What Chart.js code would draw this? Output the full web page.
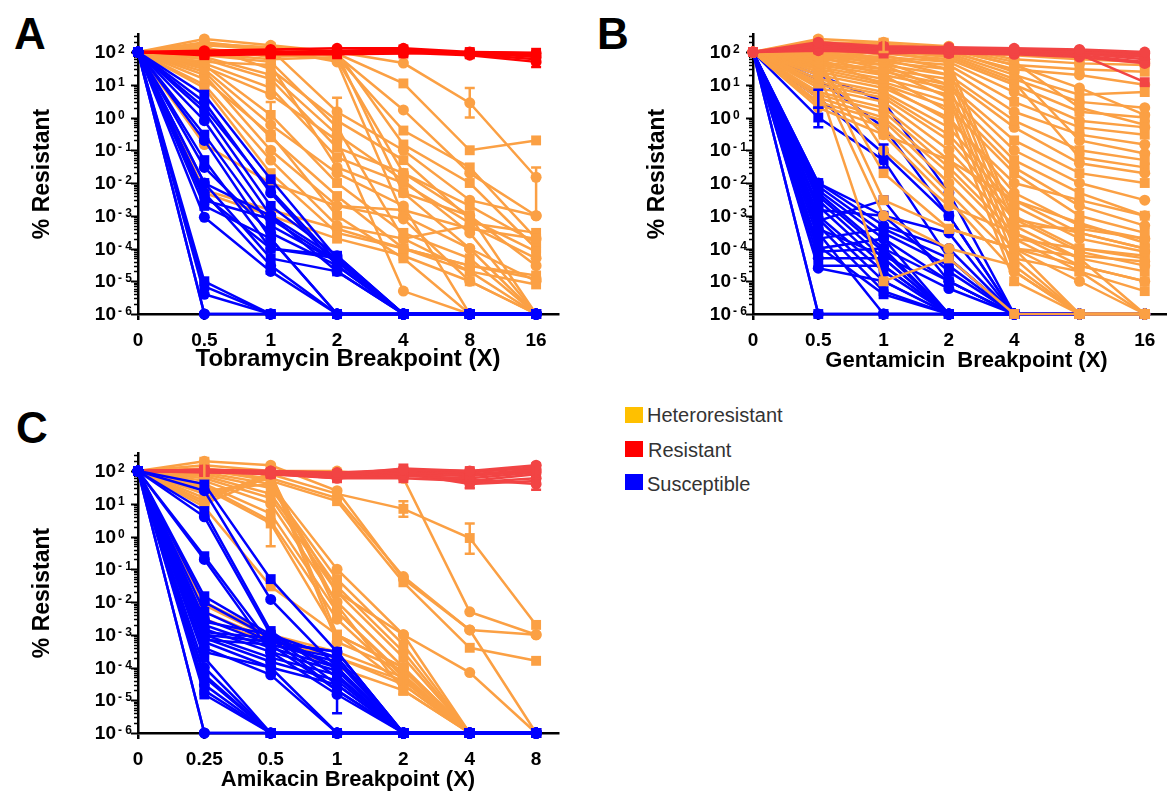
<!DOCTYPE html>
<html>
<head>
<meta charset="utf-8">
<script src="https://cdn.jsdelivr.net/npm/chart.js@4.4.0/dist/chart.umd.min.js"></script>
<style>
  body { margin: 0; width: 1167px; height: 793px; overflow: hidden; background: #fff; font-family: "Liberation Sans", Arial, sans-serif; }
  canvas { position: absolute; }
  .tag { position: absolute; font: bold 44px "Liberation Sans", Arial, sans-serif; line-height: 44px; color: #000; }
  .sw { position: absolute; width: 18px; height: 16px; }
  .lt { position: absolute; font: 20px "Liberation Sans", Arial, sans-serif; line-height: 20px; color: #333; }
</style>
</head>
<body>
<div class="tag" style="left:14px;top:12px">A</div>
<div class="tag" style="left:597px;top:12px">B</div>
<div class="tag" style="left:16px;top:406px">C</div>

<div class="sw" style="left:625px;top:407px;background:#FFC000"></div>
<div class="lt" style="left:647px;top:405px">Heteroresistant</div>
<div class="sw" style="left:625px;top:441px;background:#FF0000"></div>
<div class="lt" style="left:648px;top:440px">Resistant</div>
<div class="sw" style="left:625px;top:474px;background:#0000FF"></div>
<div class="lt" style="left:647px;top:474px">Susceptible</div>

<canvas id="chartA" width="580" height="380" style="left:0;top:0"></canvas>
<canvas id="chartB" width="572" height="380" style="left:615px;top:0"></canvas>
<canvas id="chartC" width="580" height="380" style="left:0;top:419px"></canvas>

<script>
// x categories (fold of breakpoint), one position per category
var tobraLabels = ['0', '0.5', '1', '2', '4', '8', '16'];
var gentaLabels = ['0', '0.5', '1', '2', '4', '8', '16'];
var amikaLabels = ['0', '0.25', '0.5', '1', '2', '4', '8'];
// y decades that get a "10^n" label
var yPowers = [2, 1, 0, -1, -2, -3, -4, -5, -6];

// ---- A: Tobramycin (% resistant at each breakpoint multiple) ----
var hetA = [
  [100, 250, 160, 100, 46, 2.8, 0.015],
  [100, 180, 140, 90, 11, 0.1, 0.2],
  [100, 120, 100, 80, 1.7, 0.02, 1e-3],
  [100, 90, 60, 70, 0.4, 0.03, 2e-4],
  [100, 200, 120, 1.5, 0.1, 3e-3, 1e-3],
  [100, 150, 30, 0.8, 0.05, 8e-4, 8e-5],
  [100, 70, 20, 0.3, 0.012, 3e-4, 1e-6],
  [100, 60, 15, 0.12, 0.02, 2e-3, 1.5e-4],
  [100, 50, 40, 0.03, 5e-3, 1e-4, 1e-5],
  [100, 40, 1.2, 0.01, 3e-4, 5e-5, 1e-6],
  [100, 30, 0.6, 0.02, 2e-3, 1e-6, 1e-6],
  [100, 25, 0.25, 4e-3, 1e-4, 3e-5, 1.5e-5],
  [100, 20, 0.1, 2e-3, 8e-4, 1e-5, 1e-6],
  [100, 15, 0.3, 1e-3, 5e-5, 1e-6, 1e-6],
  [100, 10, 0.05, 5e-4, 2e-4, 5e-4, 5e-5],
  [100, 8, 0.02, 3e-4, 1e-4, 2e-5, 8e-6],
  [100, 0.15, 0.01, 2e-3, 1.5e-3, 4e-4, 2e-4],
  [100, 5e-3, 1e-3, 2e-4, 6e-5, 1e-5, 1e-6],
  [100, 6e-3, 1.5e-3, 4e-4, 1e-4, 3e-5, 1.2e-5],
  [100, 110, 80, 100, 0.15, 0.01, 1e-4],
  [100, 100, 90, 60, 0.02, 1e-3, 3e-5],
  [100, 130, 70, 90, 5e-3, 1e-3, 1e-6],
  [100, 160, 120, 50, 1e-3, 1e-4, 1e-6],
  [100, 80, 50, 0.5, 2e-4, 2e-5, 1e-6],
  [100, 35, 5, 0.2, 5e-6, 1e-6, 1e-6],
  [100, 45, 8, 0.06, 0.01, 6e-4, 3e-4]
];
var resA = [
  [100, 110, 120, 130, 130, 100, 90],
  [100, 95, 100, 110, 120, 90, 80],
  [100, 90, 95, 100, 110, 95, 70],
  [100, 85, 90, 95, 100, 85, 60],
  [100, 100, 105, 90, 95, 80, 50],
  [100, 80, 85, 85, 90, 100, 95]
];
var susA = [
  [100, 1e-6, 1e-6, 1e-6, 1e-6, 1e-6, 1e-6],
  [100, 1e-5, 1e-6, 1e-6, 1e-6, 1e-6, 1e-6],
  [100, 4e-6, 1e-6, 1e-6, 1e-6, 1e-6, 1e-6],
  [100, 7e-6, 1e-6, 1e-6, 1e-6, 1e-6, 1e-6],
  [100, 9e-4, 2e-5, 1e-6, 1e-6, 1e-6, 1e-6],
  [100, 5, 1.3e-2, 5e-5, 1e-6, 1e-6, 1e-6],
  [100, 3, 5e-3, 3e-5, 1e-6, 1e-6, 1e-6],
  [100, 1.5, 2e-3, 6e-5, 1e-6, 1e-6, 1e-6],
  [100, 0.8, 1e-3, 2e-5, 1e-6, 1e-6, 1e-6],
  [100, 0.3, 5e-4, 4e-5, 1e-6, 1e-6, 1e-6],
  [100, 0.2, 2e-4, 1e-6, 1e-6, 1e-6, 1e-6],
  [100, 0.05, 1e-4, 5e-5, 1e-6, 1e-6, 1e-6],
  [100, 0.03, 3e-4, 3e-5, 1e-6, 1e-6, 1e-6],
  [100, 0.01, 5e-5, 2e-5, 1e-6, 1e-6, 1e-6],
  [100, 5e-3, 3e-5, 1e-6, 1e-6, 1e-6, 1e-6],
  [100, 3e-3, 8e-4, 4e-5, 1e-6, 1e-6, 1e-6],
  [100, 1e-2, 1e-3, 5e-5, 1e-6, 1e-6, 1e-6],
  [100, 2e-3, 2e-4, 1e-6, 1e-6, 1e-6, 1e-6],
  [100, 4e-3, 1e-4, 6e-5, 1e-6, 1e-6, 1e-6],
  [100, 2, 6e-3, 4e-5, 1e-6, 1e-6, 1e-6],
  [100, 1e-6, 1e-6, 1e-6, 1e-6, 1e-6, 1e-6]
];
// [group, series, category index, low, high]
var errA = [
  ['het', 0, 5, 1.0, 8.0],
  ['het', 0, 6, 1e-3, 3e-2],
  ['het', 4, 3, 0.5, 4],
  ['het', 9, 2, 0.3, 3],
  ['sus', 13, 2, 1.7e-5, 1.5e-4],
  ['res', 3, 6, 35, 100]
];

// ---- B: Gentamicin ----
var hetB = [
  [100, 250, 200, 150, 60, 45, 40],
  [100, 200, 180, 120, 40, 30, 25],
  [100, 180, 150, 100, 30, 20, 10],
  [100, 150, 120, 90, 20, 5, 6],
  [100, 120, 100, 80, 15, 3, 2],
  [100, 100, 90, 60, 10, 1.5, 1],
  [100, 90, 70, 50, 6, 0.8, 0.5],
  [100, 80, 60, 40, 3, 0.5, 0.3],
  [100, 70, 50, 30, 1.5, 0.3, 0.15],
  [100, 60, 40, 20, 0.8, 0.1, 0.05],
  [100, 50, 30, 15, 0.5, 0.04, 0.02],
  [100, 45, 25, 10, 0.2, 0.02, 0.01],
  [100, 40, 20, 8, 0.1, 0.01, 3e-3],
  [100, 35, 15, 5, 0.05, 5e-3, 1e-3],
  [100, 30, 12, 3, 0.03, 2e-3, 5e-4],
  [100, 25, 10, 2, 0.02, 1e-3, 3e-4],
  [100, 20, 8, 1, 5e-3, 5e-4, 2e-4],
  [100, 15, 6, 0.5, 3e-3, 3e-4, 1e-4],
  [100, 12, 5, 0.3, 2e-3, 2e-4, 8e-5],
  [100, 10, 4, 0.2, 1e-3, 1e-4, 5e-5],
  [100, 8, 3, 0.1, 8e-4, 8e-5, 3e-5],
  [100, 6, 2, 0.05, 5e-4, 5e-5, 2e-5],
  [100, 5, 1.5, 0.03, 3e-4, 3e-5, 1e-5],
  [100, 4, 1, 0.02, 2e-4, 2e-5, 5e-6],
  [100, 3, 0.8, 0.01, 1e-4, 1e-5, 1e-6],
  [100, 2.5, 0.5, 5e-3, 5e-5, 1e-6, 1e-6],
  [100, 2, 0.3, 3e-3, 2e-5, 1e-6, 1e-6],
  [100, 220, 100, 50, 8e-4, 3e-4, 1e-4],
  [100, 160, 80, 30, 5e-4, 4e-4, 2e-4],
  [100, 140, 60, 20, 2e-4, 1e-4, 6e-5],
  [100, 110, 50, 10, 1e-4, 6e-5, 4e-5],
  [100, 95, 40, 6, 5e-5, 2e-5, 1e-6],
  [100, 85, 30, 4, 2e-5, 1e-6, 1e-6],
  [100, 75, 20, 1.5, 1e-5, 1e-6, 1e-6],
  [100, 65, 10, 0.8, 1e-2, 3e-3, 1e-3],
  [100, 55, 3e-3, 4e-4, 1e-4, 3e-5, 1e-5],
  [100, 20, 1e-3, 1e-4, 3e-5, 1e-6, 1e-6],
  [100, 10, 1e-5, 5e-5, 1e-6, 1e-6, 1e-6],
  [100, 130, 100, 120, 40, 8, 1.2],
  [100, 190, 160, 130, 50, 2, 0.6],
  [100, 170, 130, 110, 25, 0.2, 0.08],
  [100, 150, 110, 70, 12, 0.06, 0.03],
  [100, 100, 0.1, 2e-3, 3e-4, 5e-5, 1e-6],
  [100, 60, 0.02, 4e-4, 1e-4, 1e-6, 1e-6],
  [100, 200, 140, 100, 80, 60, 50],
  [100, 30, 0.3, 0.05, 3e-3, 6e-4, 1.5e-4]
];
var resB = [
  [100, 200, 150, 140, 130, 120, 100],
  [100, 180, 140, 120, 110, 100, 80],
  [100, 150, 130, 110, 100, 90, 60],
  [100, 130, 120, 100, 95, 80, 50],
  [100, 110, 100, 90, 85, 70, 45],
  [100, 160, 110, 95, 100, 85, 12],
  [100, 140, 100, 130, 120, 110, 90],
  [100, 120, 90, 100, 110, 95, 70]
];
var susB = [
  [100, 1e-6, 1e-6, 1e-6, 1e-6, 1e-6, 1e-6],
  [100, 1e-6, 1e-6, 1e-6, 1e-6, 1e-6, 1e-6],
  [100, 4, 0.08, 1e-3, 1e-6, 1e-6, 1e-6],
  [100, 1, 0.05, 5e-5, 1e-6, 1e-6, 1e-6],
  [100, 20, 3, 5e-3, 1e-6, 1e-6, 1e-6],
  [100, 15, 0.5, 1e-3, 1e-6, 1e-6, 1e-6],
  [100, 1e-2, 5e-4, 1e-4, 1e-6, 1e-6, 1e-6],
  [100, 8e-3, 3e-4, 3e-5, 1e-6, 1e-6, 1e-6],
  [100, 5e-3, 1e-4, 1e-5, 1e-6, 1e-6, 1e-6],
  [100, 3e-3, 5e-5, 1e-6, 1e-6, 1e-6, 1e-6],
  [100, 2e-3, 3e-5, 1e-6, 1e-6, 1e-6, 1e-6],
  [100, 1e-3, 2e-5, 1e-6, 1e-6, 1e-6, 1e-6],
  [100, 8e-4, 1e-5, 1e-6, 1e-6, 1e-6, 1e-6],
  [100, 5e-4, 5e-6, 1e-6, 1e-6, 1e-6, 1e-6],
  [100, 3e-4, 1e-6, 1e-6, 1e-6, 1e-6, 1e-6],
  [100, 2e-4, 4e-4, 5e-5, 1e-6, 1e-6, 1e-6],
  [100, 1e-4, 2e-4, 1e-5, 1e-6, 1e-6, 1e-6],
  [100, 8e-5, 1e-4, 1e-6, 1e-6, 1e-6, 1e-6],
  [100, 5e-5, 5e-5, 1e-6, 1e-6, 1e-6, 1e-6],
  [100, 3e-5, 3e-5, 1e-6, 1e-6, 1e-6, 1e-6],
  [100, 2.5e-5, 1e-5, 1e-6, 1e-6, 1e-6, 1e-6],
  [100, 1e-2, 1e-3, 2e-5, 1e-6, 1e-6, 1e-6],
  [100, 6e-3, 2e-4, 1e-6, 1e-6, 1e-6, 1e-6],
  [100, 4e-3, 8e-5, 1e-6, 1e-6, 1e-6, 1e-6],
  [100, 1.5e-3, 1e-3, 3e-4, 1e-6, 1e-6, 1e-6],
  [100, 7e-4, 3e-3, 1e-5, 1e-6, 1e-6, 1e-6],
  [100, 4e-4, 6e-5, 6e-6, 1e-6, 1e-6, 1e-6],
  [100, 1.2e-4, 4e-6, 1e-6, 1e-6, 1e-6, 1e-6]
];
var errB = [
  ['sus', 2, 1, 2, 7],
  ['sus', 3, 1, 0.5, 2],
  ['sus', 2, 2, 0.03, 0.15],
  ['het', 32, 4, 8e-6, 5e-5],
  ['het', 34, 4, 1.5e-3, 3e-2],
  ['het', 0, 2, 100, 250]
];

// ---- C: Amikacin ----
var hetC = [
  [100, 150, 100, 100, 60, 5e-3, 1e-3],
  [100, 120, 80, 20, 7, 0.9, 2e-3],
  [100, 100, 60, 15, 0.06, 1.4e-3, 1e-3],
  [100, 110, 50, 12, 0.04, 4e-4, 1.6e-4],
  [100, 90, 40, 0.1, 1e-3, 7e-5, 1e-6],
  [100, 80, 30, 0.05, 5e-4, 1e-6, 1e-6],
  [100, 70, 20, 0.03, 3e-4, 1e-6, 1e-6],
  [100, 60, 15, 0.02, 2e-4, 1e-6, 1e-6],
  [100, 50, 10, 0.01, 1e-4, 1e-6, 1e-6],
  [100, 40, 5, 5e-3, 6e-5, 1e-6, 1e-6],
  [100, 35, 3, 3e-3, 4e-5, 1e-6, 1e-6],
  [100, 30, 2.5, 1e-3, 3e-5, 1e-6, 1e-6],
  [100, 25, 40, 2e-2, 1e-3, 1e-6, 1e-6],
  [100, 20, 60, 8e-3, 2e-5, 1e-6, 1e-6],
  [100, 15, 80, 5e-3, 5e-5, 1e-6, 1e-6],
  [100, 12, 90, 1e-3, 1e-4, 1e-6, 1e-6],
  [100, 10, 70, 6e-4, 8e-5, 1e-6, 1e-6],
  [100, 1e-2, 1e-3, 3e-4, 5e-5, 1e-6, 1e-6],
  [100, 8e-3, 8e-4, 2e-4, 3e-5, 1e-6, 1e-6],
  [100, 5e-3, 7e-4, 1e-4, 2e-5, 1e-6, 1e-6],
  [100, 3e-3, 6e-4, 2e-4, 4e-5, 1e-6, 1e-6],
  [100, 8, 0.03, 1e-3, 1e-4, 1e-6, 1e-6],
  [100, 200, 150, 25, 0.05, 1.4e-3, 1e-6]
];
var resC = [
  [100, 110, 100, 90, 110, 100, 150],
  [100, 105, 90, 80, 100, 90, 130],
  [100, 100, 85, 70, 90, 80, 110],
  [100, 95, 80, 65, 80, 70, 100],
  [100, 100, 95, 75, 70, 60, 90],
  [100, 90, 85, 60, 60, 50, 80],
  [100, 105, 100, 85, 95, 45, 60],
  [100, 110, 90, 70, 85, 40, 50],
  [100, 100, 80, 60, 75, 55, 40],
  [100, 95, 88, 78, 120, 100, 120]
];
var susC = [
  [100, 1e-6, 1e-6, 1e-6, 1e-6, 1e-6, 1e-6],
  [100, 40, 0.05, 3e-4, 1e-6, 1e-6, 1e-6],
  [100, 25, 0.012, 1e-4, 1e-6, 1e-6, 1e-6],
  [100, 6, 1.3e-3, 5e-5, 1e-6, 1e-6, 1e-6],
  [100, 4, 1e-3, 3e-5, 1e-6, 1e-6, 1e-6],
  [100, 0.25, 5e-4, 2e-5, 1e-6, 1e-6, 1e-6],
  [100, 0.2, 3e-4, 1.5e-5, 1e-6, 1e-6, 1e-6],
  [100, 1.5e-2, 1e-3, 2e-4, 1e-6, 1e-6, 1e-6],
  [100, 1e-2, 8e-4, 1e-4, 1e-6, 1e-6, 1e-6],
  [100, 5e-3, 6e-4, 3e-4, 1e-6, 1e-6, 1e-6],
  [100, 3e-3, 5e-4, 2e-4, 1e-6, 1e-6, 1e-6],
  [100, 2e-3, 4e-4, 1e-4, 1e-6, 1e-6, 1e-6],
  [100, 1.5e-3, 3e-4, 8e-5, 1e-6, 1e-6, 1e-6],
  [100, 1e-3, 2e-4, 6e-5, 1e-6, 1e-6, 1e-6],
  [100, 8e-4, 1.5e-4, 4e-5, 1e-6, 1e-6, 1e-6],
  [100, 6e-4, 1e-4, 3e-5, 1e-6, 1e-6, 1e-6],
  [100, 4e-4, 6e-5, 1e-6, 1e-6, 1e-6, 1e-6],
  [100, 2e-4, 1e-6, 1e-6, 1e-6, 1e-6, 1e-6],
  [100, 1e-4, 1e-6, 1e-6, 1e-6, 1e-6, 1e-6],
  [100, 6e-5, 1e-6, 1e-6, 1e-6, 1e-6, 1e-6],
  [100, 3e-5, 1e-6, 1e-6, 1e-6, 1e-6, 1e-6],
  [100, 1.5e-5, 1e-6, 1e-6, 1e-6, 1e-6, 1e-6],
  [100, 1e-6, 1e-6, 1e-6, 1e-6, 1e-6, 1e-6],
  [100, 1.2e-3, 8e-4, 2e-5, 1e-6, 1e-6, 1e-6],
  [100, 2.5e-3, 1e-3, 1e-4, 1e-6, 1e-6, 1e-6],
  [100, 7e-4, 5e-4, 1.5e-4, 1e-6, 1e-6, 1e-6],
  [100, 3e-4, 1e-4, 1e-6, 1e-6, 1e-6, 1e-6],
  [100, 5e-5, 1e-6, 1e-6, 1e-6, 1e-6, 1e-6],
  [100, 1e-3, 6e-4, 3e-4, 1e-6, 1e-6, 1e-6],
  [100, 2e-5, 1e-6, 1e-6, 1e-6, 1e-6, 1e-6]
];
var errC = [
  ['het', 0, 1, 60, 250],
  ['het', 11, 2, 0.5, 20],
  ['het', 1, 4, 4, 12],
  ['het', 1, 5, 0.3, 2.5],
  ['het', 10, 4, 1.5e-5, 1e-4],
  ['sus', 6, 3, 4e-6, 5e-5],
  ['res', 5, 6, 27, 150],
  ['res', 7, 5, 30, 60]
];

var FONT = "'Liberation Sans', Arial, sans-serif";
var ORANGE = '#FBA044', BLUE = '#0000FF';

// decade ticks with minor log ticks + "10^n" labels on the left of the y axis
var logAxis = {
  id: 'logAxis',
  beforeDatasetsDraw: function (chart) {
    var ctx = chart.ctx, ys = chart.scales.y, x0 = chart.chartArea.left;
    ctx.save();
    ctx.strokeStyle = '#000';
    ctx.fillStyle = '#000';
    yPowers.forEach(function (p) {
      for (var m = 1; m <= 9; m++) {
        var v = m * Math.pow(10, p);
        if (v > ys.max) break;
        var py = Math.round(ys.getPixelForValue(v)) + 0.5;
        ctx.lineWidth = m === 1 ? 2 : 1.5;
        ctx.beginPath();
        ctx.moveTo(x0 - (m === 1 ? 7 : 4), py);
        ctx.lineTo(x0, py);
        ctx.stroke();
      }
      var ty = ys.getPixelForValue(Math.pow(10, p));
      ctx.font = 'bold 19px ' + FONT;
      ctx.textAlign = 'right';
      ctx.textBaseline = 'middle';
      ctx.fillText('10', x0 - 22, ty + 1);
      ctx.font = 'bold 12px ' + FONT;
      ctx.textAlign = 'left';
      ctx.textBaseline = 'alphabetic';
      ctx.fillText(p < 0 ? '- ' + (-p) : String(p), x0 - 20, ty + 1);
    });
    ctx.restore();
  }
};

// error bars from the err lists, drawn with the chart's own scales
var errorBars = {
  id: 'errorBars',
  afterDatasetsDraw: function (chart, args, opts) {
    var ctx = chart.ctx, xs = chart.scales.x, ys = chart.scales.y;
    ctx.save();
    ctx.lineWidth = 2.5;
    opts.list.forEach(function (e) {
      var px = xs.getPixelForValue(e[2]);
      var lo = ys.getPixelForValue(e[3]), hi = ys.getPixelForValue(e[4]);
      ctx.strokeStyle = opts.colors[e[0]];
      ctx.beginPath();
      ctx.moveTo(px, lo); ctx.lineTo(px, hi);
      ctx.moveTo(px - 5, lo); ctx.lineTo(px + 5, lo);
      ctx.moveTo(px - 5, hi); ctx.lineTo(px + 5, hi);
      ctx.stroke();
    });
    ctx.restore();
  }
};

function toSets(rows, color) {
  return rows.map(function (r, i) {
    var square = i % 2 === 1;
    return {
      data: r.map(function (v, k) { return { x: k, y: v }; }),
      borderColor: color,
      backgroundColor: color,
      borderWidth: 2.5,
      pointStyle: square ? 'rect' : 'circle',
      pointRadius: square ? 7 : 5.5,
      pointBorderWidth: 0,
      tension: 0,
      clip: false
    };
  });
}

function drawPanel(id, labels, xMax, title, titleSize, order, errs, rightPad) {
  var datasets = [];
  var colors = {};
  order.forEach(function (g) {
    colors[g.key] = g.color;
    datasets = datasets.concat(toSets(g.rows, g.color));
  });
  var canvas = document.getElementById(id);
  new Chart(canvas.getContext('2d'), {
    type: 'line',
    data: { datasets: datasets },
    options: {
      responsive: false,
      animation: false,
      layout: { padding: { top: 34, right: rightPad, left: 0, bottom: 0 } },
      plugins: {
        legend: { display: false },
        tooltip: { enabled: false },
        errorBars: { list: errs, colors: colors }
      },
      scales: {
        x: {
          type: 'linear',
          min: 0,
          max: xMax,
          afterBuildTicks: function (s) {
            s.ticks = labels.map(function (l, i) { return { value: i }; });
          },
          afterFit: function (s) { s.height = 66; },
          border: { display: true, color: '#000', width: 2.5 },
          grid: { display: true, drawOnChartArea: false, drawTicks: true, tickLength: 6, color: '#000', lineWidth: 2.5 },
          ticks: {
            autoSkip: false, maxRotation: 0, padding: 9, color: '#000',
            font: { family: FONT, size: 19, weight: 'bold' },
            callback: function (v) { return labels[v]; }
          },
          title: {
            display: true, text: title, color: '#000',
            font: { family: FONT, size: titleSize, weight: 'bold' },
            padding: { top: 0, bottom: 6 }
          }
        },
        y: {
          type: 'logarithmic',
          min: 1e-6,
          max: 355,
          afterFit: function (s) { s.width = 138; },
          border: { display: true, color: '#000', width: 2.5 },
          grid: { display: false },
          ticks: { display: false },
          title: {
            display: true, text: '% Resistant', color: '#000',
            font: { family: FONT, size: 23, weight: 'bold' },
            padding: { top: 29, bottom: 0 }
          }
        }
      }
    },
    plugins: [logAxis, errorBars]
  });
}

// first group in the list is drawn on top
drawPanel('chartA', tobraLabels, 6.33, 'Tobramycin Breakpoint (X)', 24, [
  { key: 'sus', rows: susA, color: BLUE },
  { key: 'res', rows: resA, color: '#FF0000' },
  { key: 'het', rows: hetA, color: ORANGE }
], errA, 22);

// panel B's axis runs off the right edge of the page
drawPanel('chartB', gentaLabels, 6.54, 'Gentamicin  Breakpoint (X)', 22, [
  { key: 'res', rows: resB, color: '#F24444' },
  { key: 'het', rows: hetB, color: ORANGE },
  { key: 'sus', rows: susB, color: BLUE }
], errB, 0);

drawPanel('chartC', amikaLabels, 6.33, 'Amikacin Breakpoint (X)', 22, [
  { key: 'sus', rows: susC, color: BLUE },
  { key: 'res', rows: resC, color: '#F24444' },
  { key: 'het', rows: hetC, color: ORANGE }
], errC, 22);
</script>
</body>
</html>
